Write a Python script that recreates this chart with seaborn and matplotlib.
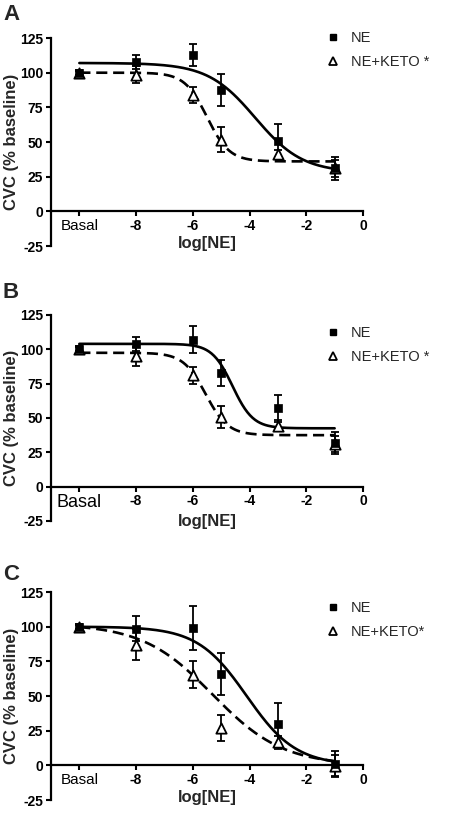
import numpy as np
import pandas as pd
import matplotlib
matplotlib.use("Agg")
import matplotlib.pyplot as plt
import seaborn as sns
from matplotlib.lines import Line2D

# ---------------- data ----------------
doses = [-10, -8, -6, -5, -3, -1]          # -10 plotted as "Basal"
x_tick_pos = [-10, -8, -6, -4, -2, 0]
x_tick_labels = ["Basal", "-8", "-6", "-4", "-2", "0"]
y_ticks = [-25, 0, 25, 50, 75, 100, 125]
panel_letters = ["A", "B", "C"]
legend_labels_ab = ["NE", "NE+KETO *"]
legend_labels_c = ["NE", "NE+KETO*"]

a_ne_mean = [100, 107.5, 113, 87.5, 51, 31]
a_ne_err = [2, 5, 8, 11.5, 12, 8.5]
a_keto_mean = [100, 98.5, 84, 51.5, 41, 31]
a_keto_err = [1.5, 6, 6, 9, 3, 6]

b_ne_mean = [100.5, 104, 107, 83, 57, 32]
b_ne_err = [2, 5, 10, 9.5, 10, 8]
b_keto_mean = [100, 95, 81, 51, 44.5, 31]
b_keto_err = [1.5, 7, 6, 8, 4, 6]

c_ne_mean = [100, 98.5, 99, 66, 30, 1]
c_ne_err = [2, 9, 16, 15, 15, 9]
c_keto_mean = [100, 87, 65.5, 27, 16.5, -0.5]
c_keto_err = [1.5, 11, 10, 9.5, 5, 8]

# sigmoid fit parameters: top, bottom, logEC50, slope
a_fit_ne = [107, 28, -3.8, 0.52]
a_fit_keto = [100, 36, -5.5, 1.1]
b_fit_ne = [104, 42.5, -4.6, 1.2]
b_fit_keto = [97.5, 37.5, -5.55, 1.1]
c_fit_ne = [100, 0, -4.1, 0.5]
c_fit_keto = [102, 0, -5.3, 0.35]

panels = [
    (a_ne_mean, a_ne_err, a_keto_mean, a_keto_err, a_fit_ne, a_fit_keto, legend_labels_ab),
    (b_ne_mean, b_ne_err, b_keto_mean, b_keto_err, b_fit_ne, b_fit_keto, legend_labels_ab),
    (c_ne_mean, c_ne_err, c_keto_mean, c_keto_err, c_fit_ne, c_fit_keto, legend_labels_c),
]

# ---------------- style ----------------
sns.set_theme(style="ticks")
plt.rcParams['font.family'] = ['Liberation Sans', 'DejaVu Sans']

fig = plt.figure(figsize=(4.54, 8.16), dpi=100)
W, H = 454, 816

def fig_rect(left_px, top_px, right_px, bottom_px):
    return [left_px / W, 1 - bottom_px / H, (right_px - left_px) / W, (bottom_px - top_px) / H]

rects = [fig_rect(51, 38, 363, 246), fig_rect(51, 315, 363, 521), fig_rect(51, 592, 363, 800)]
letter_y = [14, 292, 575]
legend_y = [50, 345, 620]
basal_size = [11, 13, 11]

def sigmoid(x, p):
    top, bottom, ec50, s = p
    return bottom + (top - bottom) / (1 + 10 ** ((x - ec50) * s))

xs = np.linspace(-10, -1, 200)

for i, (ne_m, ne_e, k_m, k_e, f_ne, f_k, leg_labels) in enumerate(panels):
    ax = fig.add_axes(rects[i])
    # fitted curves
    df_curve = pd.DataFrame({"x": np.concatenate([xs, xs]),
                             "y": np.concatenate([sigmoid(xs, f_ne), sigmoid(xs, f_k)]),
                             "grp": ["NE"] * len(xs) + ["KETO"] * len(xs)})
    sns.lineplot(data=df_curve[df_curve.grp == "NE"], x="x", y="y", ax=ax,
                 color="black", lw=1.9, zorder=2)
    sns.lineplot(data=df_curve[df_curve.grp == "KETO"], x="x", y="y", ax=ax,
                 color="black", lw=1.9, zorder=2)
    ax.lines[-1].set_dashes((4.2, 2.2))

    # error bars
    ax.errorbar(doses, k_m, yerr=k_e, fmt="none", ecolor="black", elinewidth=1.3,
                capsize=3.2, capthick=1.3, zorder=3, clip_on=False)
    ax.errorbar(doses, ne_m, yerr=ne_e, fmt="none", ecolor="black", elinewidth=1.3,
                capsize=3.2, capthick=1.3, zorder=3, clip_on=False)
    # markers
    sns.scatterplot(x=doses, y=k_m, ax=ax, marker="^", s=55, facecolor="white",
                    edgecolor="black", linewidth=1.3, zorder=4, clip_on=False)
    sns.scatterplot(x=doses, y=ne_m, ax=ax, marker="s", s=28, color="black",
                    edgecolor="black", linewidth=0.5, zorder=5, clip_on=False)

    ax.set_xlim(-11, 0)
    ax.set_ylim(-25, 125)
    ax.spines["top"].set_visible(False)
    ax.spines["right"].set_visible(False)
    ax.spines["bottom"].set_position(("data", 0))
    for sp in ("left", "bottom"):
        ax.spines[sp].set_linewidth(1.6)
        ax.spines[sp].set_color("black")

    ax.set_yticks(y_ticks)
    ax.set_yticklabels([str(v) for v in y_ticks], fontweight="bold", fontsize=10)
    ax.set_xticks(x_tick_pos)
    ax.set_xticklabels(x_tick_labels, fontsize=10, fontweight="bold")
    lbls = ax.get_xticklabels()
    lbls[0].set_fontweight("normal")
    lbls[0].set_fontsize(basal_size[i])
    ax.tick_params(axis="both", direction="out", length=3.5, width=1.5, color="black",
                   pad=2, labelcolor="black")
    for t in ax.xaxis.get_major_ticks():
        t.tick1line.set_clip_on(False)

    ax.set_xlabel("log[NE]", fontsize=12, fontweight="bold", labelpad=2)
    ax.set_ylabel("CVC (% baseline)", fontsize=12, fontweight="bold", labelpad=1)
    ax.grid(False)
    ax.set_facecolor("white")

    handles = [Line2D([], [], marker="s", linestyle="none", color="black", markersize=4.5),
               Line2D([], [], marker="^", linestyle="none", markerfacecolor="white",
                      markeredgecolor="black", markeredgewidth=1.3, markersize=5.5)]
    ax.legend(handles, leg_labels, loc="center left",
              bbox_to_anchor=(318 / W, 1 - legend_y[i] / H), bbox_transform=fig.transFigure,
              frameon=False, fontsize=10.5, handletextpad=0.75, labelspacing=0.65,
              handlelength=1.0, borderpad=0)

    fig.text(3 / W, 1 - letter_y[i] / H, panel_letters[i], fontsize=16, fontweight="bold",
             va="center", ha="left")

fig.savefig("out.png", dpi=100, facecolor="white")
